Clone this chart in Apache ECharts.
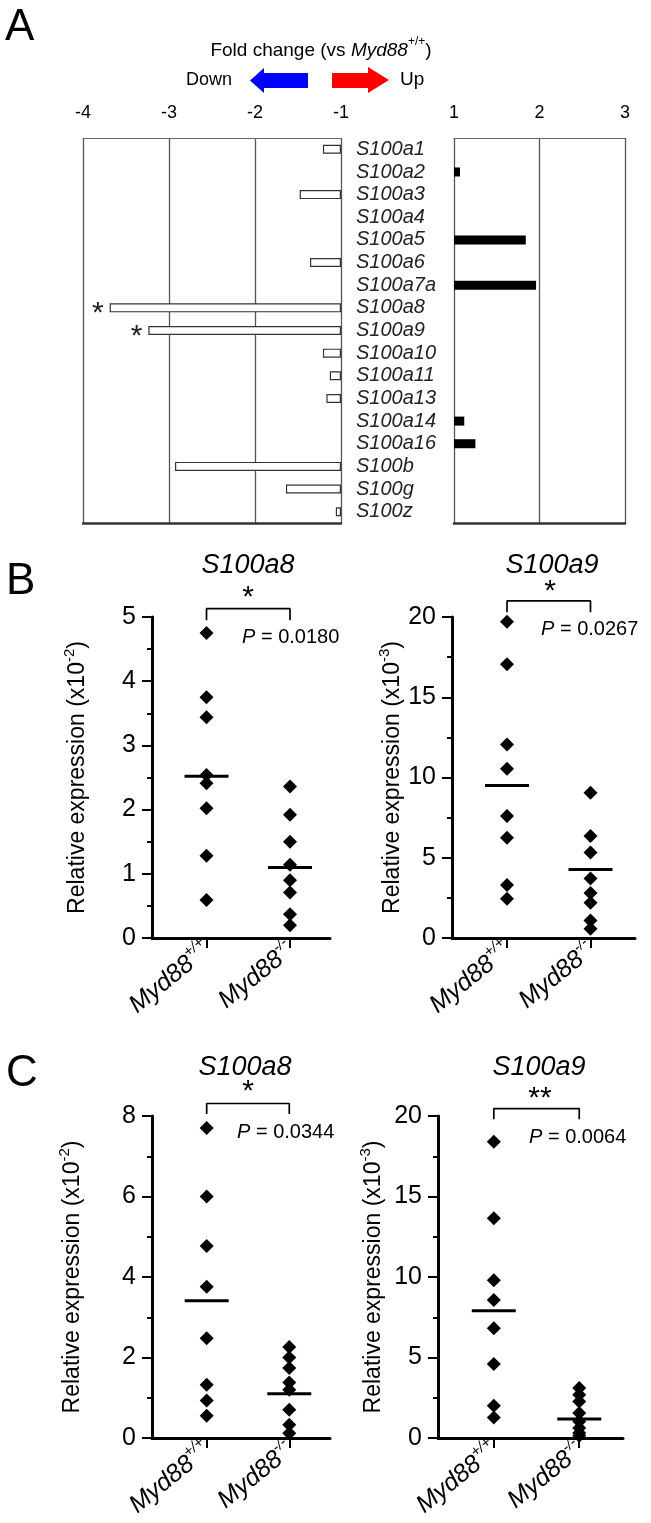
<!DOCTYPE html>
<html><head><meta charset="utf-8">
<script src="https://cdn.jsdelivr.net/npm/echarts@6/dist/echarts.min.js"></script>
<style>html,body{margin:0;padding:0;background:#fff}#c{width:651px;height:1523px}</style>
</head><body><div id="c"></div>
<script>
// ---------- DATA ----------
// Panel A: fold change vs Myd88+/+ (negative = down, positive = up)
const genes = ['S100a1','S100a2','S100a3','S100a4','S100a5','S100a6','S100a7a','S100a8','S100a9','S100a10','S100a11','S100a13','S100a14','S100a16','S100b','S100g','S100z'];
const foldChange = [-1.21, 1.07, -1.48, null, 1.84, -1.36, 1.96, -3.69, -3.24, -1.21, -1.13, -1.17, 1.12, 1.25, -2.93, -1.64, -1.06];
const significantGenes = ['S100a8','S100a9'];
const downRange = [-4, -1];
const upRange = [1, 3];

// Panels B / C: relative expression, genotype groups
const genotypes = ['+/+', '-/-'];
const bS100a8WT = [4.75, 3.75, 3.44, 2.54, 2.41, 2.02, 1.28, 0.59];
const bS100a8KO = [2.36, 1.92, 1.50, 1.14, 0.90, 0.71, 0.37, 0.20];
const bS100a8Mean = [2.52, 1.10];
const bS100a9WT = [19.7, 17.05, 12.05, 10.55, 7.6, 6.25, 3.3, 2.45];
const bS100a9KO = [9.05, 6.35, 5.33, 3.7, 2.8, 2.2, 1.09, 0.57];
const bS100a9Mean = [9.5, 4.27];
const cS100a8WT = [7.7, 6.0, 4.77, 3.76, 2.48, 1.32, 0.93, 0.55];
const cS100a8KO = [2.26, 2.0, 1.74, 1.38, 1.2, 0.7, 0.33, 0.12];
const cS100a8Mean = [3.41, 1.10];
const cS100a9WT = [18.4, 13.65, 9.8, 8.57, 6.82, 4.6, 2.0, 1.28];
const cS100a9KO = [3.1, 2.68, 2.27, 1.55, 1.03, 0.62, 0.31, 0.14];
const cS100a9Mean = [7.9, 1.18];
// significance brackets [low, high] in axis units
const bS100a8Bracket = [4.95, 5.13];
const bS100a9Bracket = [20.3, 21.0];
const cS100a8Bracket = [8.05, 8.31];
const cS100a9Bracket = [19.8, 20.46];
const pValues = ['0.0180', '0.0267', '0.0344', '0.0064'];
const stars = ['*', '*', '*', '**'];

// ---------- CHART ----------
const FONT = "'Liberation Sans', Arial, Helvetica, sans-serif";
const chart = echarts.init(document.getElementById('c'), null, {renderer: 'canvas'});

const downBase = foldChange.map(v => (v !== null && v < 0) ? -1 : '-');
const downDelta = foldChange.map((v, i) => {
  if (v === null || v >= 0) return '-';
  const sig = significantGenes.includes(genes[i]);
  return sig ? {value: v + 1, label: {show: true, formatter: '*', position: 'left', distance: 6, fontSize: 30, fontFamily: FONT, color: '#222', offset: [0, 6]}} : v + 1;
});
const upBase = foldChange.map(v => (v !== null && v > 0) ? 1 : '-');
const upDelta = foldChange.map(v => (v !== null && v > 0) ? v - 1 : '-');

const gridLine = {color: '#555', width: 1.3};

function topAxis(gridIndex, range) {
  return {type: 'value', gridIndex, position: 'top', min: range[0], max: range[1], interval: 1,
    axisLine: {show: true, onZero: false, lineStyle: {color: '#666', width: 1.2}},
    axisTick: {show: false},
    axisLabel: {show: true, fontSize: 18, color: '#000', fontFamily: FONT, margin: 16},
    splitLine: {show: true, showMinLine: true, showMaxLine: true, lineStyle: gridLine}};
}
function bottomLine(gridIndex, range) {
  return {type: 'value', gridIndex, position: 'bottom', min: range[0], max: range[1],
    axisLine: {show: true, onZero: false, lineStyle: {color: '#333', width: 2.5}},
    axisTick: {show: false}, axisLabel: {show: false}, splitLine: {show: false}};
}

const labelRich = {
  m: {fontSize: 25, fontStyle: 'italic', fontFamily: FONT, color: '#000', lineHeight: 29, verticalAlign: 'bottom'},
  s: {fontSize: 15, fontStyle: 'italic', fontFamily: FONT, color: '#000', lineHeight: 15, verticalAlign: 'top'}
};
function scatterX(gridIndex, min, max) {
  return {type: 'value', gridIndex, min, max, position: 'bottom',
    axisLine: {show: true, onZero: false, lineStyle: {color: '#000', width: 3}},
    axisTick: {show: true, customValues: [1, 2], length: 10, lineStyle: {color: '#000', width: 2}},
    axisLabel: {show: true, customValues: [1, 2], rotate: 39, margin: 8,
      formatter: v => '{m|Myd88}{s|' + genotypes[Math.round(v) - 1] + '}', rich: labelRich},
    splitLine: {show: false}};
}
function scatterY(gridIndex, max, interval, exp, gap) {
  return {type: 'value', gridIndex, min: 0, max, interval,
    axisLine: {show: true, onZero: false, lineStyle: {color: '#000', width: 3}},
    axisTick: {show: true, length: 10, lineStyle: {color: '#000', width: 2}},
    minorTick: {show: true, splitNumber: 2, length: 5, lineStyle: {color: '#000', width: 2}},
    axisLabel: {fontSize: 25, color: '#000', fontFamily: FONT, margin: 16},
    splitLine: {show: false}, minorSplitLine: {show: false},
    name: '{n|Relative expression (x10}{s|' + exp + '}{n|)}', nameLocation: 'middle', nameRotate: 90, nameGap: gap,
    nameTextStyle: {rich: {
      n: {fontSize: 23, fontFamily: FONT, color: '#000', lineHeight: 27, verticalAlign: 'bottom'},
      s: {fontSize: 15, fontFamily: FONT, color: '#000', lineHeight: 15, verticalAlign: 'top'}}}};
}
function scatterSeries(xi, yi, wt, ko, mean, bracket) {
  const pts = wt.map(v => [1, v]).concat(ko.map(v => [2, v]));
  return [
    {type: 'scatter', xAxisIndex: xi, yAxisIndex: yi, data: pts, symbol: 'diamond', symbolSize: 14,
      itemStyle: {color: '#000', opacity: 1}, silent: true, z: 3},
    {type: 'scatter', xAxisIndex: xi, yAxisIndex: yi, data: mean.map((m, i) => [i + 1, m]), symbol: 'rect',
      symbolSize: [44, 3], itemStyle: {color: '#000', opacity: 1}, silent: true, z: 4},
    {type: 'line', xAxisIndex: xi, yAxisIndex: yi, clip: false, symbol: 'none', silent: true,
      data: [[1, bracket[0]], [1, bracket[1]], [2, bracket[1]], [2, bracket[0]]],
      lineStyle: {color: '#000', width: 1.7}}
  ];
}

const txt = (x, y, text, opts) => ({type: 'text', x, y, silent: true,
  style: Object.assign({text, fill: '#000', fontFamily: FONT, fontSize: 20, align: 'left', verticalAlign: 'middle'}, opts || {})});
const pRich = {p: {fontSize: 20, fontStyle: 'italic', fontFamily: FONT, fill: '#000'}, n: {fontSize: 20, fontFamily: FONT, fill: '#000'}};
const pText = (x, y, i) => txt(x, y, '{p|P}{n| = ' + pValues[i] + '}', {rich: pRich});
const titleText = (x, y, t) => txt(x, y, t, {fontSize: 27, fontStyle: 'italic', align: 'center'});
const starText = (x, y, i) => txt(x, y, stars[i], {fontSize: 30, align: 'center'});

const option = {
  backgroundColor: '#fff',
  animation: false,
  grid: [
    {left: 83, top: 138, width: 258, height: 385, outerBoundsMode: 'none'},
    {left: 454, top: 138, width: 171, height: 385, outerBoundsMode: 'none'},
    {left: 152, top: 617, width: 178, height: 321, outerBoundsMode: 'none'},
    {left: 452, top: 617, width: 183, height: 321, outerBoundsMode: 'none'},
    {left: 152, top: 1116, width: 178, height: 322, outerBoundsMode: 'none'},
    {left: 438, top: 1116, width: 185, height: 322, outerBoundsMode: 'none'}
  ],
  xAxis: [
    topAxis(0, downRange), bottomLine(0, downRange),
    topAxis(1, upRange), bottomLine(1, upRange),
    scatterX(2, 0.347, 2.479), scatterX(3, 0.341, 2.533),
    scatterX(4, 0.338, 2.493), scatterX(5, 0.347, 2.512)
  ],
  yAxis: [
    {type: 'category', gridIndex: 0, data: genes, inverse: true, position: 'right',
      axisLine: {show: false}, axisTick: {show: false}, splitLine: {show: false},
      axisLabel: {interval: 0, align: 'left', margin: 15, fontSize: 20, fontStyle: 'italic', color: '#222', fontFamily: FONT}},
    {type: 'category', gridIndex: 1, data: genes, inverse: true,
      axisLine: {show: false}, axisTick: {show: false}, axisLabel: {show: false}, splitLine: {show: false}},
    scatterY(2, 5, 1, '-2', 63),
    scatterY(3, 20, 5, '-3', 48),
    scatterY(4, 8, 2, '-2', 68),
    scatterY(5, 20, 5, '-3', 53)
  ],
  series: [
    {type: 'bar', xAxisIndex: 0, yAxisIndex: 0, stack: 'down', data: downBase, barWidth: 9,
      itemStyle: {color: 'rgba(0,0,0,0)'}, silent: true},
    {type: 'bar', xAxisIndex: 0, yAxisIndex: 0, stack: 'down', data: downDelta, barWidth: 9,
      itemStyle: {color: '#fff', borderColor: '#333', borderWidth: 1.2}, silent: true},
    {type: 'bar', xAxisIndex: 2, yAxisIndex: 1, stack: 'up', data: upBase, barWidth: 9,
      itemStyle: {color: 'rgba(0,0,0,0)'}, silent: true},
    {type: 'bar', xAxisIndex: 2, yAxisIndex: 1, stack: 'up', data: upDelta, barWidth: 9,
      itemStyle: {color: '#000'}, silent: true}
  ].concat(
    scatterSeries(4, 2, bS100a8WT, bS100a8KO, bS100a8Mean, bS100a8Bracket),
    scatterSeries(5, 3, bS100a9WT, bS100a9KO, bS100a9Mean, bS100a9Bracket),
    scatterSeries(6, 4, cS100a8WT, cS100a8KO, cS100a8Mean, cS100a8Bracket),
    scatterSeries(7, 5, cS100a9WT, cS100a9KO, cS100a9Mean, cS100a9Bracket)
  ),
  graphic: [
    txt(5, 28, 'A', {fontSize: 44}),
    txt(321, 48, '{n|Fold change (vs }{i|Myd88}{s|+/+}{n|)}', {align: 'center', rich: {
      n: {fontSize: 19, fontFamily: FONT, fill: '#000', lineHeight: 24, verticalAlign: 'bottom'},
      i: {fontSize: 19, fontFamily: FONT, fontStyle: 'italic', fill: '#000', lineHeight: 24, verticalAlign: 'bottom'},
      s: {fontSize: 12, fontFamily: FONT, fill: '#000', lineHeight: 12, verticalAlign: 'top'}}}),
    txt(186, 80, 'Down', {fontSize: 18}),
    {type: 'polygon', silent: true, shape: {points: [[250, 80.5], [264, 68], [264, 73], [308, 73], [308, 88], [264, 88], [264, 93]]}, style: {fill: '#0000ff'}},
    {type: 'polygon', silent: true, shape: {points: [[389, 80], [368, 67], [368, 73], [332, 73], [332, 88], [368, 88], [368, 93]]}, style: {fill: '#ff0000'}},
    txt(400, 80, 'Up', {fontSize: 19}),
    txt(6, 582, 'B', {fontSize: 44}),
    txt(6, 1074, 'C', {fontSize: 44}),
    titleText(248, 565, 'S100a8'), titleText(552, 565, 'S100a9'),
    titleText(245, 1067, 'S100a8'), titleText(539, 1067, 'S100a9'),
    starText(248, 598, 0), starText(550, 592, 1), starText(248, 1092, 2), starText(540, 1099, 3),
    pText(242, 637, 0), pText(541, 629, 1), pText(237, 1132, 2), pText(529, 1137, 3)
  ]
};
chart.setOption(option);
</script>
</body></html>
